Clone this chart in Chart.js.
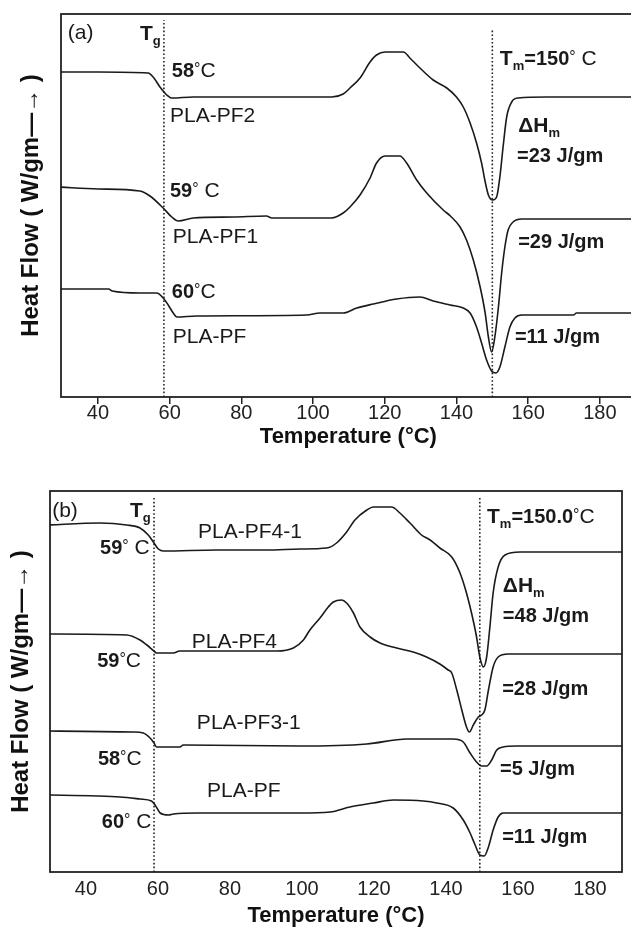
<!DOCTYPE html>
<html><head><meta charset="utf-8">
<style>
html,body{margin:0;padding:0;background:#fff;overflow:hidden;width:631px;height:932px;}
#wrap{position:relative;width:631px;height:932px;overflow:hidden;background:#fff;}
canvas{position:absolute;left:0;}
#ca{top:0;width:640px;height:462px;}
#cb{top:470px;width:631px;height:462px;}
</style>
<script src="https://cdn.jsdelivr.net/npm/chart.js@4.4.1/dist/chart.umd.min.js"></script>
</head><body>
<div id="wrap"><canvas id="ca" width="640" height="462"></canvas><canvas id="cb" width="631" height="462"></canvas></div>
<script>
// ---------- data (Temperature in °C, heat flow in arbitrary offset units) ----------
const TICKS = [40, 60, 80, 100, 120, 140, 160, 180];

// panel (a)
const a_PF2_T  = [29,40,54,55.4,57.3,59.2,60.6,66.6,80,96.3,105.2,108.4,110.3,113.1,115.9,117.7,120.1,125.2,127,129.8,133.5,137.3,140,141.9,143.8,145.6,147,147.9,148.9,150.1,151.2,152.1,153,154,155.4,157.2,165.2,190];
const a_PF2_HF = [32.5,32.5,32.4,32.0,31.0,30.2,29.9,30.0,30.0,30.0,30.0,30.3,30.9,31.9,33.5,34.2,34.5,34.5,33.9,32.9,31.7,30.9,30.0,29.0,27.4,25.4,23.4,21.7,20.2,19.7,20.0,22.0,25.0,28.0,29.5,29.9,30.0,30.0];

const a_PF1_T  = [29,40,51.7,54.5,58.2,60.6,62.4,66.6,77.7,87,88.5,105.2,108.4,110.3,113.1,115.9,117.7,120.1,124.2,126.1,128.9,131.7,136.3,138.3,141,142.8,144.7,146.6,148,148.9,149.8,150.7,151.7,152.6,153.5,154.4,155.8,158.2,190];
const a_PF1_HF = [21.0,20.8,20.6,20.1,18.9,18.0,17.6,17.9,18.0,18.1,17.9,17.9,18.4,19.0,20.2,21.9,23.4,24.1,24.1,23.4,21.7,20.4,18.7,18.1,17.0,15.7,13.7,11.0,8.4,6.0,4.5,6.0,9.0,12.4,15.0,16.7,17.5,17.8,17.8];

const a_PF_T   = [29,43,44,51.7,56.4,58.2,59.6,61,62,67.5,98.2,101.9,108.4,112.2,116.8,123.3,129.8,133.5,138.2,141.9,143.8,145.6,147,148.4,149.8,151,152.1,153.5,154.9,156.3,158.2,172.6,173.5,190];
const a_PF_HF  = [10.8,10.8,10.6,10.4,10.4,9.9,9.2,8.4,8.0,8.1,8.2,8.4,8.4,8.9,9.3,9.8,10.0,9.6,9.2,8.9,8.4,7.0,5.4,3.7,2.6,2.4,3.0,5.0,7.0,7.9,8.2,8.2,8.4,8.4];

const a_TG = 58.4, a_TG_TOP = 37.7;
const a_TM = 150.0, a_TM_TOP = 36.7;

// panel (b)
const b_PF41_T  = [29,43.9,51.3,55,57.3,58.7,60.1,61.5,76.3,90.2,99.4,106.9,109.6,112.4,114.7,118,119.8,124.9,127.2,130,133.2,135.6,138.3,141.6,143.9,145.7,147.1,148.5,149.4,150.4,151.3,152.2,153.1,154.5,156.4,160.6,190];
const b_PF41_HF = [34.7,34.9,34.7,34.4,33.7,33.0,32.3,32.1,32.2,32.2,32.3,32.4,32.9,34.0,35.2,36.2,36.5,36.5,35.9,34.9,33.7,33.2,32.4,31.5,29.9,27.9,25.9,23.5,21.5,20.5,21.5,24.5,27.9,30.5,31.7,32.0,32.0];

const b_PF4_T   = [29,51.3,55,56.9,59.2,59.6,64.3,66,93,97.6,100.4,102.2,105,107.3,108.7,111,112.4,114.3,116.1,118.9,121.7,126.3,130.9,134.6,138.3,140.6,141.6,143,144.4,145.7,146.5,147.6,149,149.9,150.8,151.8,153.1,154.5,157.3,190];
const b_PF4_HF  = [23.8,23.7,23.2,22.7,22.0,21.9,21.9,22.1,22.1,22.4,23.2,24.2,25.4,26.5,27.0,27.2,26.9,25.9,24.5,23.5,22.9,22.4,22.0,21.5,20.8,20.2,19.9,18.2,16.2,14.5,14.0,14.7,15.5,15.7,16.2,18.2,20.5,21.5,21.8,21.8];

const b_PF31_T  = [29,53.1,55.9,57.8,58.9,59.6,66.1,67,99.4,118,129.1,142,144.8,146.7,148.5,149.9,151.3,152.7,154.1,155.9,159.6,190];
const b_PF31_HF = [14.1,14.0,13.9,13.4,12.9,12.5,12.5,12.7,12.6,12.8,13.3,13.3,13.0,11.9,11.0,10.6,10.6,11.2,12.2,12.5,12.6,12.6];

const b_PF_T    = [29,43,49.4,55,58.2,59.2,60.6,62.9,64.3,71.2,99.4,107.8,113.3,119.8,125.4,133.7,137.4,142,144.8,146.7,148.1,149.4,150.6,151.8,153.1,154.5,155.9,190];
const b_PF_HF   = [7.7,7.6,7.5,7.3,7.1,6.7,5.9,5.7,5.8,5.9,5.9,6.0,6.5,6.9,7.2,7.1,6.9,6.4,5.2,3.9,2.7,1.7,1.6,2.5,4.2,5.5,5.9,5.9];

const b_TG = 58.9, b_TG_TOP = 37.4;
const b_TM = 149.4, b_TM_TOP = 37.5;

// annotations: anchor (temperature, heat flow) of the text baseline start
const A_NOTES = [
  {t:31.6,  v:35.8, parts:[['(a)','n']]},
  {t:51.7,  v:35.7, parts:[['T','B'],['g','sub']]},
  {t:60.6,  v:32.0, parts:[['58','b'],['°','deg'],['C','n']]},
  {t:60.1,  v:27.5, parts:[['PLA-PF2','n']]},
  {t:60.1,  v:20.0, parts:[['59','b'],['°','deg'],[' C','n']]},
  {t:60.9,  v:15.4, parts:[['PLA-PF1','n']]},
  {t:60.6,  v:9.9,  parts:[['60','b'],['°','deg'],['C','n']]},
  {t:60.9,  v:5.4,  parts:[['PLA-PF','n']]},
  {t:152.1, v:33.2, parts:[['T','B'],['m','sub'],['=150','b'],['°','deg'],[' C','n']]},
  {t:157.2, v:26.5, parts:[['ΔH','B'],['m','sub']]},
  {t:156.9, v:23.5, parts:[['=23 J/gm','b']]},
  {t:157.2, v:14.9, parts:[['=29 J/gm','b']]},
  {t:156.3, v:5.4,  parts:[['=11 J/gm','b']]}
];
const B_NOTES = [
  {t:30.6,  v:35.5, parts:[['(b)','n']]},
  {t:52.2,  v:35.5, parts:[['T','B'],['g','sub']]},
  {t:71.1,  v:33.4, parts:[['PLA-PF4-1','n']]},
  {t:43.9,  v:31.8, parts:[['59','b'],['°','deg'],[' C','n']]},
  {t:69.4,  v:22.4, parts:[['PLA-PF4','n']]},
  {t:43.1,  v:20.5, parts:[['59','b'],['°','deg'],['C','n']]},
  {t:70.8,  v:14.3, parts:[['PLA-PF3-1','n']]},
  {t:43.3,  v:10.7, parts:[['58','b'],['°','deg'],['C','n']]},
  {t:73.6,  v:7.5,  parts:[['PLA-PF','n']]},
  {t:44.4,  v:4.4,  parts:[['60','b'],['°','deg'],[' C','n']]},
  {t:151.4, v:34.9, parts:[['T','B'],['m','sub'],['=150.0','b'],['°','deg'],['C','n']]},
  {t:155.8, v:28.0, parts:[['ΔH','B'],['m','sub']]},
  {t:155.8, v:25.0, parts:[['=48 J/gm','b']]},
  {t:155.6, v:17.7, parts:[['=28 J/gm','b']]},
  {t:155.0, v:9.7,  parts:[['=5 J/gm','b']]},
  {t:155.6, v:2.9,  parts:[['=11 J/gm','b']]}
];

// ---------- rendering ----------
const FONT = "'Liberation Sans', Arial, Helvetica, sans-serif";
const INK = '#1a1a1a';
const STYLES = {
  n:   {font: `normal 21px ${FONT}`, dy: 0},
  b:   {font: `bold 20px ${FONT}`, dy: 0},
  B:   {font: `bold 21px ${FONT}`, dy: 0},
  sub: {font: `bold 13px ${FONT}`, dy: 5},
  deg: {font: `normal 16px ${FONT}`, dy: -3}
};

const zip = (xs, ys) => xs.map((x, i) => ({x, y: ys[i]}));

const annotPlugin = {
  id: 'annot',
  afterDatasetsDraw(chart, args, opts) {
    const {ctx, scales: {x, y}} = chart;
    ctx.save();
    ctx.fillStyle = INK;
    ctx.textBaseline = 'alphabetic';
    ctx.textAlign = 'left';
    for (const it of opts.items || []) {
      let px = x.getPixelForValue(it.t);
      const py = y.getPixelForValue(it.v);
      for (const [txt, st] of it.parts) {
        const s = STYLES[st];
        ctx.font = s.font;
        ctx.fillText(txt, px, py + s.dy);
        px += ctx.measureText(txt).width;
      }
    }
    ctx.restore();
  }
};
const boxPlugin = {
  id: 'box',
  beforeDatasetsDraw(chart) {
    const {ctx, chartArea: a} = chart;
    ctx.save();
    ctx.strokeStyle = '#222';
    ctx.lineWidth = 1.8;
    ctx.strokeRect(a.left, a.top, a.right - a.left, a.bottom - a.top);
    ctx.restore();
  }
};

function curve(T, HF) {
  return {data: zip(T, HF), borderColor: INK, borderWidth: 1.6, pointRadius: 0,
          cubicInterpolationMode: 'monotone', fill: false};
}
function dotted(t, top) {
  return {data: [{x: t, y: 0}, {x: t, y: top}], borderColor: '#222', borderWidth: 1.6,
          borderDash: [1.6, 2.2], pointRadius: 0, fill: false};
}

function makeChart(id, cfg) {
  return new Chart(document.getElementById(id), {
    type: 'line',
    data: {datasets: cfg.datasets},
    plugins: [boxPlugin, annotPlugin],
    options: {
      responsive: false, animation: false, devicePixelRatio: 1,
      layout: {padding: cfg.padding},
      plugins: {legend: {display: false}, tooltip: {enabled: false}, annot: {items: cfg.notes}},
      scales: {
        x: {
          type: 'linear', min: cfg.xmin, max: cfg.xmax,
          afterBuildTicks: s => { s.ticks = TICKS.map(v => ({value: v})); },
          afterFit: s => { s.height = cfg.xh; },
          border: {display: false},
          grid: {display: true, drawOnChartArea: false, drawTicks: cfg.tickMarks,
                 tickLength: 7, color: '#222', lineWidth: 1.5},
          ticks: {color: '#222', font: {family: FONT, size: 20}, padding: cfg.tickPad,
                  maxRotation: 0, autoSkip: false, callback: v => String(v)},
          title: {display: true, text: 'Temperature (°C)', color: '#111',
                  font: {family: FONT, size: 22, weight: 'bold'},
                  padding: {top: 0, bottom: cfg.xtPad}}
        },
        y: {
          type: 'linear', min: 0, max: cfg.ymax,
          afterFit: s => { s.width = cfg.yw; },
          border: {display: false},
          grid: {display: false},
          ticks: {display: false},
          title: {display: true, text: 'Heat Flow ( W/gm—→ )', color: '#111',
                  font: {family: FONT, size: 24, weight: 'bold'},
                  padding: {top: cfg.ytPad, bottom: 0}}
        }
      }
    }
  });
}

makeChart('ca', {
  datasets: [curve(a_PF2_T, a_PF2_HF), curve(a_PF1_T, a_PF1_HF), curve(a_PF_T, a_PF_HF),
             dotted(a_TG, a_TG_TOP), dotted(a_TM, a_TM_TOP)],
  notes: A_NOTES,
  padding: {top: 14, right: 4.25, bottom: 0, left: 0},
  xmin: 29.7, xmax: 190, ymax: 38.3,
  xh: 65, yw: 61, tickMarks: true, tickPad: -3, xtPad: 11.8, ytPad: 16.6
});
makeChart('cb', {
  datasets: [curve(b_PF41_T, b_PF41_HF), curve(b_PF4_T, b_PF4_HF), curve(b_PF31_T, b_PF31_HF),
             curve(b_PF_T, b_PF_HF), dotted(b_TG, b_TG_TOP), dotted(b_TM, b_TM_TOP)],
  notes: B_NOTES,
  padding: {top: 21, right: 9, bottom: 0, left: 0},
  xmin: 30, xmax: 188.9, ymax: 38.1,
  xh: 60, yw: 50, tickMarks: false, tickPad: 5, xtPad: 2.5, ytPad: 6.6
});
</script>
</body></html>
